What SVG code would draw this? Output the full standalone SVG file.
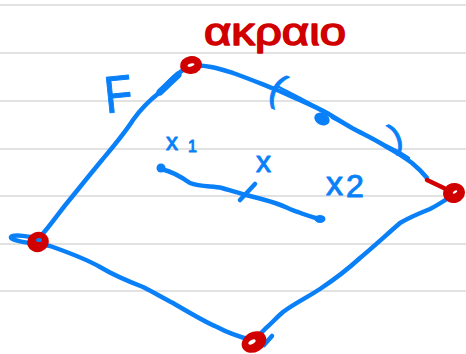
<svg xmlns="http://www.w3.org/2000/svg" width="466" height="354" viewBox="0 0 466 354">
<style>
.rule{stroke:#d9d9d9;stroke-width:1.6}
.b{fill:none;stroke:#0a80f8;stroke-width:4.5;stroke-linecap:round;stroke-linejoin:round}
.bt{fill:none;stroke:#0a80f8;stroke-width:2.5;stroke-linecap:round;stroke-linejoin:round}
.r{fill:#d00000}
.hole{fill:#ffffff}
.lb{font-family:"Liberation Sans",Arial,sans-serif;fill:#0a80f8;stroke:#0a80f8;stroke-width:1;stroke-linejoin:round}
.lr{font-family:"Liberation Sans","DejaVu Sans",sans-serif;fill:#d00000;stroke:#d00000;stroke-width:1.5;stroke-linejoin:round}
</style>
<rect width="466" height="354" fill="#ffffff"/>
<g id="paper">
<line class="rule" x1="0" y1="5" x2="466" y2="5"/>
<line class="rule" x1="0" y1="53" x2="466" y2="53"/>
<line class="rule" x1="0" y1="101" x2="466" y2="101"/>
<line class="rule" x1="0" y1="149" x2="466" y2="149"/>
<line class="rule" x1="0" y1="196" x2="466" y2="196"/>
<line class="rule" x1="0" y1="244" x2="466" y2="244"/>
<line class="rule" x1="0" y1="291" x2="466" y2="291"/>
</g>
<g id="connectors">
<path class="b" d="M40,237 C50,226 58,214 67,203 C80,187 92,172 102,160 C112,148 124,134 133,120 C142,107 150,100 160,92 C168,83 176,73 190,66"/>
<path class="b" d="M160,92 L178,75" style="stroke-width:7"/>
<path class="b" d="M45,240 C30,236 12,234 11,237 C10,241 30,243 50,246 C70,253 86,259 100,267 C115,276 130,282 143,287 C155,293 163,298 173,303 C190,313 205,322 217,327 C228,333 240,337 254,341"/>
<path class="b" d="M254,341 C258,336 262,332 266,328 C272,323 277,317 283,312 C295,303 308,297 320,289 C335,279 348,269 360,258 C372,248 384,237 400,223 C410,217 420,213 430,209 C438,205 444,201 453,195"/>
<path class="b" d="M264,345 L272,336"/>
<path class="b" d="M190,66 C205,64 220,69 233,73 C250,79 264,85 277,90 C295,98 312,105 327,113 C337,119 345,124 352,128 C365,135 376,140 385,146 C396,152 404,157 412,163 C418,168 423,173 427,178"/>
<path class="bt" d="M277,86 C292,94 308,101 323,111"/>
<path class="bt" d="M332,118 C350,127 372,138 392,148 C400,152 405,155 409,158"/>
<ellipse cx="322" cy="119" rx="8" ry="6" fill="#0a80f8" transform="rotate(25 322 119)"/>
<path d="M427,180 L448,190" fill="none" stroke="#d00000" stroke-width="4.5" stroke-linecap="round"/>
<path class="b" d="M161,169 C170,171 180,176 190,183 C200,187 212,186 222,188 C232,191 238,193 246,195 C258,198 266,200 275,203 C285,206 290,210 298,212 C305,215 312,217 320,219"/>
<circle cx="161" cy="168" r="4.5" fill="#0a80f8"/>
<ellipse cx="320" cy="219" rx="5.5" ry="4" fill="#0a80f8"/>
<path class="b" d="M240,200 L255,184"/>
</g>
<g id="vertices">
<g id="v-top"><ellipse class="r" cx="191" cy="65" rx="11" ry="9" transform="rotate(-10 191 65)"/><ellipse class="hole" cx="191" cy="65" rx="3.5" ry="1.5" transform="rotate(-15 191 65)"/></g>
<g id="v-left"><ellipse class="r" cx="38" cy="242" rx="11" ry="10" transform="rotate(-20 38 242)"/><ellipse cx="39" cy="240" rx="3" ry="2" fill="#0a80f8"/></g>
<g id="v-bottom"><ellipse class="r" cx="254" cy="342" rx="13" ry="10" transform="rotate(-30 254 342)"/><ellipse class="hole" cx="252" cy="342" rx="4" ry="2" transform="rotate(-30 252 342)"/></g>
<g id="v-right"><ellipse class="r" cx="454" cy="193" rx="11" ry="10" transform="rotate(-15 454 193)"/><ellipse class="hole" cx="455" cy="192" rx="2.5" ry="1.2" transform="rotate(-30 455 192)"/></g>
</g>
<g id="labels">
<text class="lr" x="204" y="45" font-size="38" textLength="142" lengthAdjust="spacingAndGlyphs">ακραιο</text>
<text class="lb" x="104" y="112" font-size="52" textLength="28" lengthAdjust="spacingAndGlyphs" transform="rotate(-6 118 92)">F</text>
<text class="lb" x="270" y="103" font-size="38" transform="rotate(25 282 92)">(</text>
<text class="lb" x="390" y="147" font-size="34" transform="rotate(-20 398 136)">)</text>
<text class="lb" x="166" y="150" font-size="24">x<tspan font-size="16" dx="10" dy="2">1</tspan></text>
<text class="lb" x="256" y="172" font-size="30">x</text>
<text class="lb" x="326" y="195" font-size="34">x<tspan font-size="32" dx="3" dy="2">2</tspan></text>
</g>
</svg>
